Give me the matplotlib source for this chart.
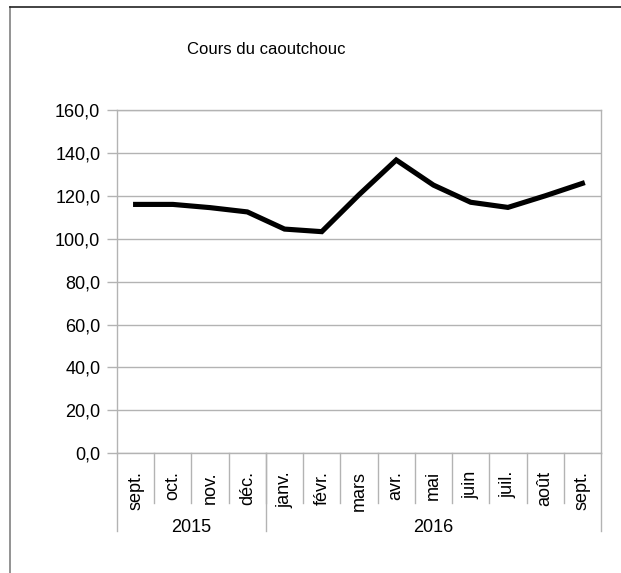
import matplotlib as mpl
mpl.use('Agg')
import matplotlib.pyplot as plt
from matplotlib.lines import Line2D
from matplotlib.ticker import FuncFormatter
import numpy as np

plt.rcParams['font.family'] = ['Liberation Sans', 'DejaVu Sans']

# Data
months = ['sept.', 'oct.', 'nov.', 'déc.', 'janv.', 'févr.', 'mars',
          'avr.', 'mai', 'juin', 'juil.', 'août', 'sept.']
years = ['2015', '2016']
year_counts = [4, 9]
prices = [116.0, 116.0, 114.5, 112.5, 104.5, 103.3, 120.5,
          136.7, 125.0, 117.0, 114.6, 120.0, 125.8]
title = 'Cours du caoutchouc'

W, H = 621, 573
fig = plt.figure(figsize=(W / 100, H / 100), dpi=100)

# plot area in pixels
x0, x1 = 117, 601
y_top, y_bot = 110, 453.3
ax = fig.add_axes([x0 / W, 1 - y_bot / H, (x1 - x0) / W, (y_bot - y_top) / H])

grey = '#b3b3b3'
x = np.arange(len(months))
ax.plot(x, prices, color='black', lw=3.7, solid_joinstyle='miter', zorder=3)

ax.set_xlim(-0.5, len(months) - 0.5)
ax.set_ylim(0, 160)
ax.set_yticks(np.arange(0, 161, 20))
ax.yaxis.set_major_formatter(FuncFormatter(lambda v, p: ('%.1f' % v).replace('.', ',')))
ax.yaxis.grid(True, color=grey, lw=1)
ax.set_axisbelow(True)
ax.tick_params(axis='y', length=7, width=1, color=grey, labelsize=13, pad=5)
ax.set_xticks([])
for s in ax.spines.values():
    s.set_color(grey)
    s.set_linewidth(1)

# category axis: month labels and separators
trans = ax.get_xaxis_transform()
ph = y_bot - y_top
def yfrac(py):
    return (y_bot - py) / ph

for i, m in enumerate(months):
    ax.text(i, yfrac(471), m, transform=trans, rotation=90, ha='center',
            va='top', fontsize=13)
for b in range(1, len(months)):
    ax.plot([b - 0.5, b - 0.5], [0, yfrac(503)], transform=trans,
            color=grey, lw=1, clip_on=False)

start = 0
edges = [-0.5]
for yr, n in zip(years, year_counts):
    ax.text(start + (n - 1) / 2, yfrac(527), yr, transform=trans,
            ha='center', va='center', fontsize=13)
    start += n
    edges.append(start - 0.5)
for e in edges:
    ax.plot([e, e], [0, yfrac(531)], transform=trans, color=grey, lw=1,
            clip_on=False)

fig.text(266.5 / W, 1 - 49 / H, title, ha='center', va='center', fontsize=12)

# outer chart frame
fig.add_artist(Line2D([9.5 / W, 9.5 / W], [0, 1 - 7 / H], color='#808080', lw=1.2))
fig.add_artist(Line2D([9.5 / W, 1], [1 - 7 / H, 1 - 7 / H], color='#222222', lw=1.2))

fig.savefig('out.png', dpi=100)
